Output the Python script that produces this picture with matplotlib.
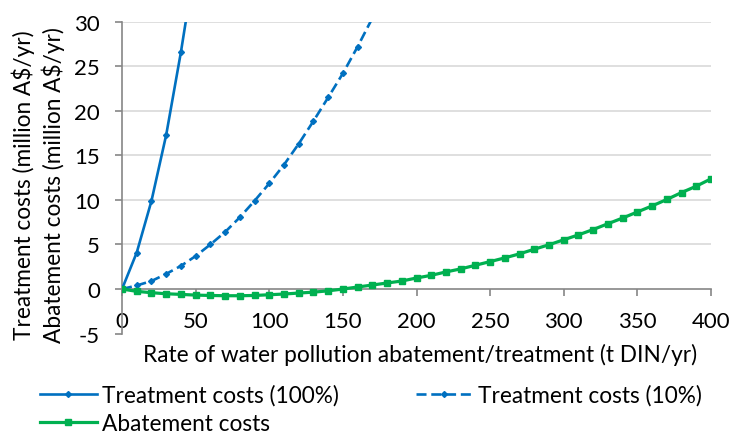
import matplotlib.pyplot as plt

# x positions (t DIN/yr)
x_treat100 = [0, 10, 20, 30, 40, 50]
x_treat10 = [0, 10, 20, 30, 40, 50, 60, 70, 80, 90, 100, 110, 120, 130, 140, 150, 160, 170]
x_abate = list(range(0, 410, 10))

# costs (million A$/yr)
treat100 = [0, 4.1, 9.9, 17.3, 26.6, 37.0]
treat10 = [0, 0.4, 0.9, 1.7, 2.6, 3.7, 5.0, 6.4, 8.05, 9.9, 11.85, 13.95,
           16.3, 18.85, 21.5, 24.2, 27.2, 30.4]
abate = [0, -0.26, -0.41, -0.53, -0.60, -0.68, -0.72, -0.75, -0.75, -0.72,
         -0.64, -0.56, -0.45, -0.35, -0.2, 0, 0.23, 0.45, 0.68, 0.9,
         1.24, 1.54, 1.92, 2.26, 2.67, 3.08, 3.5, 3.95, 4.47, 4.97,
         5.53, 6.08, 6.68, 7.33, 7.97, 8.65, 9.33, 10.05, 10.83, 11.54, 12.37]

blue = '#0070C0'
green = '#00B050'

plt.rcParams['font.family'] = ['Lato', 'DejaVu Sans']
plt.rcParams['font.size'] = 16
plt.rcParams['axes.unicode_minus'] = False

fig = plt.figure(figsize=(7.29, 4.35), dpi=100)
ax = fig.add_axes([0.1674, 0.2308, 0.9753 - 0.1674, 0.9478 - 0.2308])

# light horizontal gridlines (none at -5)
for gy in [5, 10, 15, 20, 25, 30]:
    ax.axhline(gy, color='#d9d9d9', lw=1.2, zorder=0)

h1, = ax.plot(x_treat100, treat100, color=blue, lw=1.9, marker='D', ms=3,
              label='Treatment costs (100%)', zorder=3)
h2, = ax.plot(x_treat10, treat10, color=blue, lw=1.9, marker='D', ms=3,
              dashes=(3.8, 1.8), label='Treatment costs (10%)', zorder=3)
h3, = ax.plot(x_abate, abate, color=green, lw=2.3, marker='s', ms=4.5,
              label='Abatement costs', zorder=3)

ax.set_xlim(0, 400)
ax.set_ylim(-5, 30)
ax.set_xticks(range(0, 401, 50))
ax.set_yticks(range(-5, 31, 5))

ax.spines['top'].set_visible(False)
ax.spines['right'].set_visible(False)
ax.spines['bottom'].set_position(('data', 0))
ax.spines['bottom'].set_color('#868686')
ax.spines['left'].set_color('#868686')
ax.spines['bottom'].set_linewidth(1.2)
ax.spines['left'].set_linewidth(1.2)
ax.tick_params(axis='both', colors='#868686', labelcolor='black', length=5, width=1.2,
               labelsize=16)
ax.tick_params(axis='y', pad=11)
ax.tick_params(axis='x', pad=11)

fig.text(0.576, 0.184, 'Rate of water pollution abatement/treatment (t DIN/yr)',
         ha='center', va='center', fontsize=16.3)
fig.text(0.0316, 0.575, 'Treatment costs (million A$/yr)', rotation=90,
         ha='center', va='center', fontsize=16.3)
fig.text(0.0727, 0.575, 'Abatement costs (million A$/yr)', rotation=90,
         ha='center', va='center', fontsize=16.3)

fig.legend([h1, h3, h2], ['Treatment costs (100%)', 'Abatement costs', 'Treatment costs (10%)'],
           ncol=2, loc='center left', bbox_to_anchor=(0.055, 0.0575), frameon=False,
           handlelength=2.5, handletextpad=0.25, columnspacing=3.4, labelspacing=0.3,
           borderaxespad=0, borderpad=0, fontsize=16.3)

fig.savefig('out.png', dpi=100)
